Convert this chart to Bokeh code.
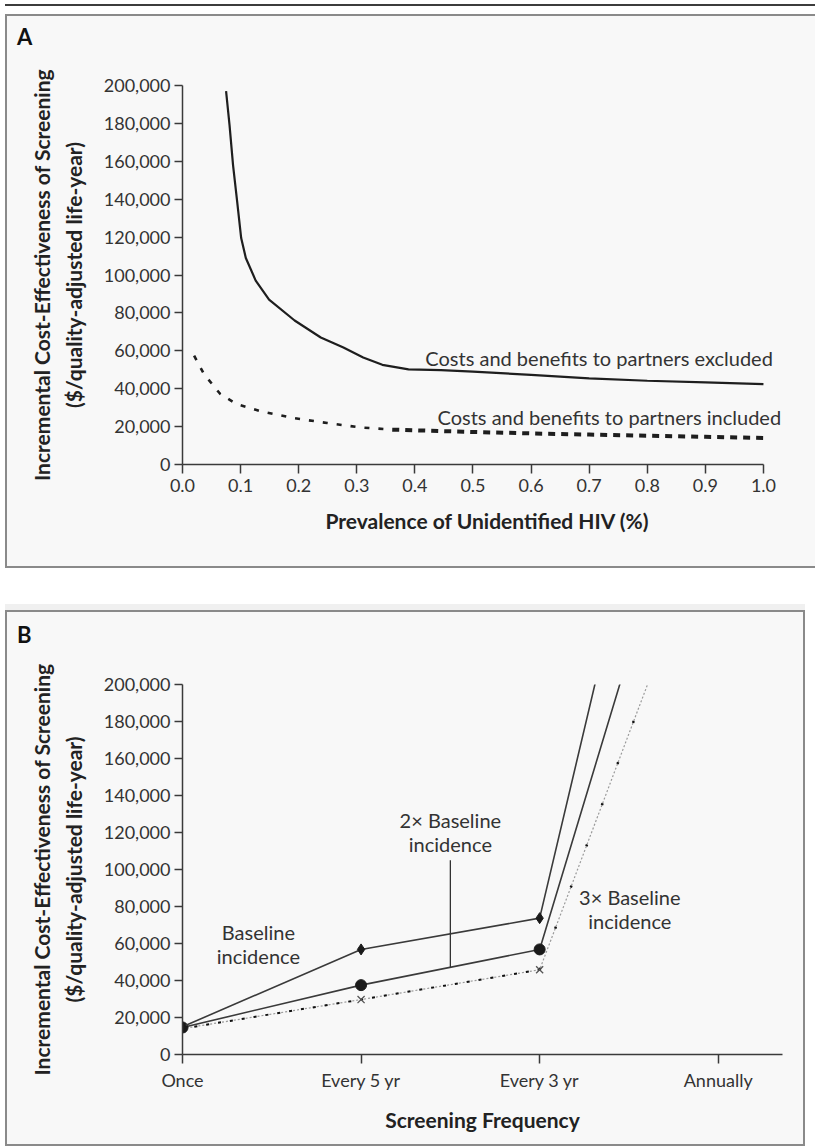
from bokeh.plotting import figure
from bokeh.models import Range1d, FixedTicker, NumeralTickFormatter, Label, Div
from bokeh.layouts import column
from bokeh.embed import file_html
from bokeh.resources import INLINE

FONT = "Lato"
TXT = "#333333"
AX = "#3a3a3a"
EDGE = "#8a8a8a"
PANEL_BG = "#f8f8f8"

# ---------------- Panel A data ----------------
prev_excluded = [0.075, 0.081, 0.087, 0.094, 0.101, 0.109, 0.126, 0.149, 0.193, 0.238,
                 0.277, 0.311, 0.344, 0.389, 0.445, 0.50, 0.60, 0.70, 0.80, 0.90, 1.00]
icer_excluded = [197000, 179000, 158000, 139000, 119500, 109000, 97000, 87000, 76000, 67000,
                 61700, 56500, 52600, 50200, 49800, 49000, 47300, 45500, 44200, 43300, 42400]

prev_included = [0.020, 0.037, 0.065, 0.093, 0.137, 0.193, 0.249, 0.305, 0.361, 0.417,
                 0.484, 0.60, 0.70, 0.80, 0.90, 1.00]
icer_included = [57400, 47700, 37200, 31900, 27900, 24400, 21900, 19600, 18400, 17900,
                 17300, 16400, 15800, 15200, 14600, 14000]

prev_ticks = [0.0, 0.1, 0.2, 0.3, 0.4, 0.5, 0.6, 0.7, 0.8, 0.9, 1.0]
icer_ticks = [0, 20000, 40000, 60000, 80000, 100000, 120000, 140000, 160000, 180000, 200000]

# ---------------- Panel B data ----------------
freq_labels = ["Once", "Every 5 yr", "Every 3 yr", "Annually"]
icer_baseline = [15000, 56800, 73700, 482000]
icer_2x = [14600, 37500, 56800, 376000]
icer_3x = [14000, 29700, 45800, 301000]

Y_TITLE = "Incremental Cost-Effectiveness of Screening\n($/quality-adjusted life-year)"


def style_axes(p):
    for ax in p.axis:
        ax.axis_line_color = AX
        ax.axis_line_width = 1.5
        ax.major_tick_line_color = AX
        ax.major_tick_line_width = 1.5
        ax.major_tick_in = 0
        ax.major_tick_out = 8
        ax.minor_tick_line_color = None
        ax.major_label_text_font = FONT
        ax.major_label_text_font_size = "18px"
        ax.major_label_text_color = TXT
        ax.axis_label_text_font = FONT
        ax.axis_label_text_font_style = "bold"
        ax.axis_label_text_font_size = "21px"
        ax.axis_label_text_color = "#222222"
    p.yaxis.ticker = FixedTicker(ticks=icer_ticks)
    p.yaxis.formatter = NumeralTickFormatter(format="0,0")
    p.yaxis.major_label_standoff = 4
    p.yaxis.axis_label = Y_TITLE
    p.yaxis.axis_label_standoff = 15
    p.yaxis.axis_label_text_line_height = 1.27
    p.xaxis.major_tick_out = 9
    p.xaxis.major_label_standoff = 5
    p.xaxis.axis_label_standoff = 13
    p.grid.visible = False


def letter_div(letter, width, line_h, shadow):
    html = ('<div style="padding-left:12px; font-family:Lato; font-weight:bold; '
            'font-size:22px; line-height:%dpx; color:#111111;">%s</div>' % (line_h, letter))
    return Div(text=html, width=width, height=40, margin=0,
               styles={"background-color": PANEL_BG, "box-shadow": shadow})


# ---------------- Panel A ----------------
pa = figure(width=810, height=514, output_backend="svg", toolbar_location=None,
            x_range=Range1d(0, 1.05), y_range=Range1d(0, 200000),
            min_border_left=177, min_border_right=7, min_border_top=31, min_border_bottom=104,
            background_fill_color=None, border_fill_color=None, outline_line_color=None,
            styles={"background-color": PANEL_BG,
                    "box-shadow": "inset 2px 0 0 %s, inset 0 -2px 0 %s" % (EDGE, EDGE)})
style_axes(pa)
pa.xaxis.ticker = FixedTicker(ticks=prev_ticks)
pa.xaxis.formatter = NumeralTickFormatter(format="0.0")
pa.xaxis.bounds = (prev_ticks[0], prev_ticks[-1])
pa.xaxis.axis_label = "Prevalence of Unidentified HIV (%)"

pa.line(prev_excluded, icer_excluded, line_color="#1e1e1e", line_width=2.2)
# dashed curve: finer dashes at the steep start, heavier blocks further right
pa.line(prev_included[:9], icer_included[:9], line_color="#1e1e1e", line_width=2.6,
        line_dash="5 9")
pa.line(prev_included[8:], icer_included[8:], line_color="#1e1e1e", line_width=4,
        line_dash="7 6")

pa.add_layout(Label(x=0.418, y=56300, text="Costs and benefits to partners excluded",
                    text_font=FONT, text_font_size="20px", text_color=TXT,
                    text_align="left", text_baseline="middle"))
pa.add_layout(Label(x=0.439, y=25300, text="Costs and benefits to partners included",
                    text_font=FONT, text_font_size="20px", text_color=TXT,
                    text_align="left", text_baseline="middle"))

# ---------------- Panel B ----------------
pb = figure(width=800, height=496, output_backend="svg", toolbar_location=None,
            x_range=Range1d(0, 3.36), y_range=Range1d(0, 200000),
            min_border_left=169, min_border_right=23, min_border_top=34, min_border_bottom=92,
            background_fill_color=None, border_fill_color=None, outline_line_color=None,
            styles={"background-color": PANEL_BG,
                    "box-shadow": "inset 2px 0 0 %s, inset -2px 0 0 %s, inset 0 -2px 0 %s"
                                  % (EDGE, EDGE, EDGE)})
style_axes(pb)
freq_pos = list(range(len(freq_labels)))
pb.xaxis.ticker = FixedTicker(ticks=freq_pos)
pb.xaxis.major_label_overrides = {i: lab for i, lab in enumerate(freq_labels)}
pb.xaxis.axis_label = "Screening Frequency"

pb.line(freq_pos, icer_3x, line_color="#9a9a9a", line_width=1.2, line_dash="2 2")
pb.line(freq_pos[:3], icer_3x[:3], line_color="#111111", line_width=2, line_dash="3 9")
pb.line(freq_pos[2:], icer_3x[2:], line_color="#111111", line_width=2.5, line_dash="2 42")
pb.scatter(freq_pos, icer_3x, marker="x", size=10, line_color="#555555", line_width=1.3)

pb.line(freq_pos, icer_2x, line_color="#3a3a3a", line_width=1.6)
pb.scatter(freq_pos, icer_2x, marker="circle", size=11, color="#1a1a1a")

pb.line(freq_pos, icer_baseline, line_color="#3a3a3a", line_width=1.6)
pb.scatter(freq_pos, icer_baseline, marker="diamond", size=11, color="#1a1a1a")

# leader line from the "2x" label down to the 2x curve
mid_2x = (icer_2x[1] + icer_2x[2]) / 2
pb.segment(x0=[1.5], y0=[mid_2x], x1=[1.5], y1=[105000], line_color="#333333", line_width=1.3)

for x, y, t in [(0.425, 66100, "Baseline"), (0.425, 53500, "incidence"),
                (1.5, 126500, "2\u00d7 Baseline"), (1.5, 113900, "incidence"),
                (2.505, 85400, "3\u00d7 Baseline"), (2.505, 72400, "incidence")]:
    pb.add_layout(Label(x=x, y=y, text=t, text_font=FONT, text_font_size="20px",
                        text_color=TXT, text_align="center", text_baseline="middle"))

# ---------------- layout ----------------
rule = Div(text="", width=810, height=2, margin=0, styles={"background-color": "#3c3c3c"})
gap_top = Div(text="", width=810, height=8, margin=0)
head_a = letter_div("A", 810, 46, "inset 2px 2px 0 %s" % EDGE)
gap_mid = Div(text="", width=810, height=36, margin=0)
band = Div(text="", width=800, height=6, margin=0, styles={"background-color": "#f0f0f0"})
head_b = letter_div("B", 800, 50, "inset 2px 2px 0 %s, inset -2px 0 0 %s" % (EDGE, EDGE))

page = column(rule, gap_top, head_a, pa, gap_mid, band, head_b, pb,
              spacing=0, styles={"margin-left": "5px", "margin-top": "4px"})

open("out.html", "w").write(file_html(page, INLINE))
